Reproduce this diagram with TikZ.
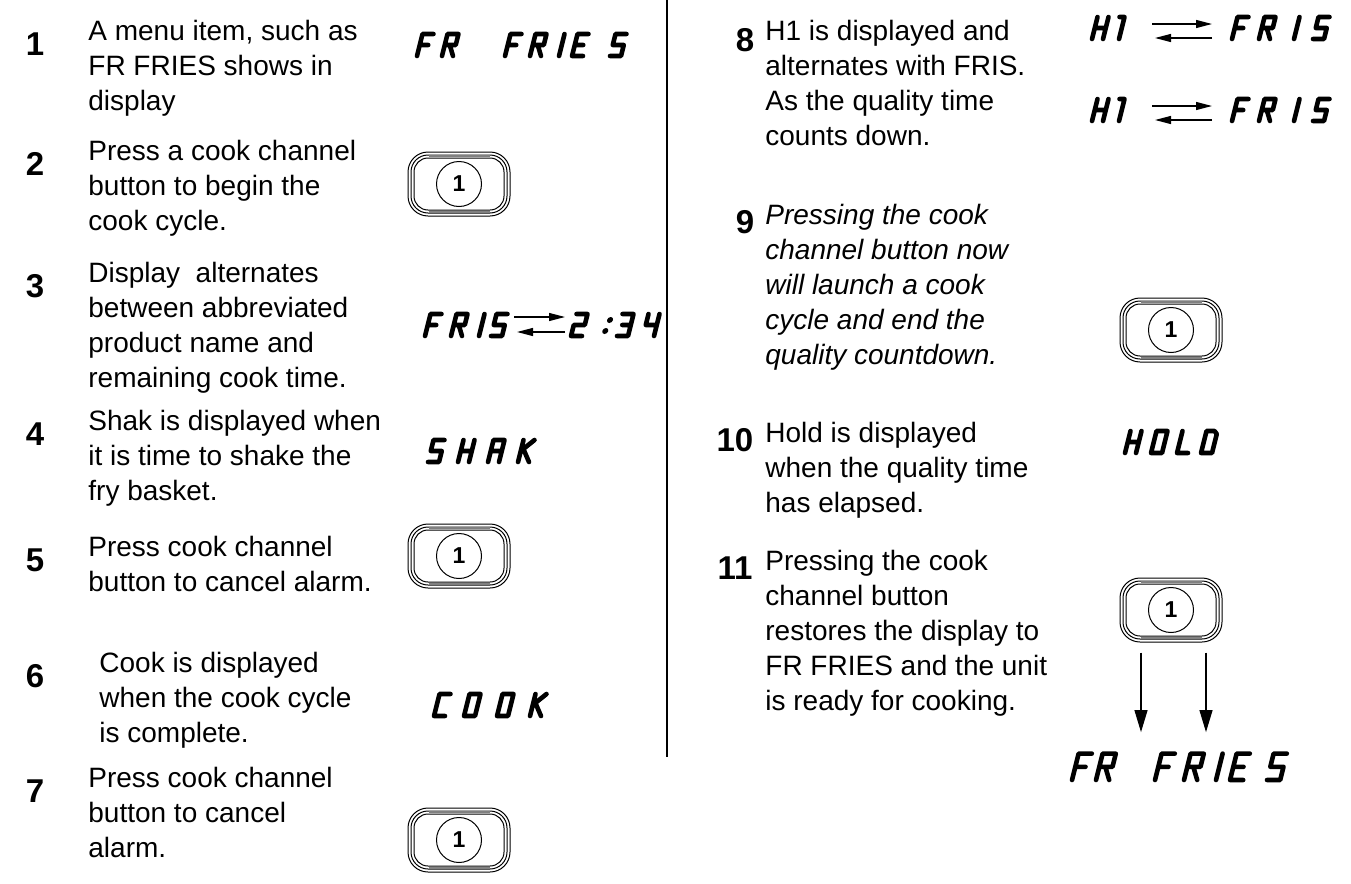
\documentclass[tikz,border=0pt]{standalone}
\usepackage{fontspec}
\setmainfont{Liberation Sans}
\usetikzlibrary{arrows.meta}
\tikzset{
  seg/.style={line width=2.3pt, line cap=round, line join=round},
  steptext/.style={anchor=north west, inner sep=0pt, align=left, font=\fontsize{14}{17.5}\selectfont},
  stepnum/.style={inner sep=0pt, font=\fontsize{16.5}{19}\selectfont\bfseries},
  btnline/.style={draw, line width=0.5pt, inner sep=0pt},
  btncirc/.style={draw, circle, line width=0.5pt, minimum size=22.5pt, inner sep=0pt, font=\fontsize{11.5}{13}\selectfont\bfseries},
  altarrow/.style={line width=0.6pt, -{Triangle[length=8pt,width=4pt]}},
  downarrow/.style={line width=0.6pt, -{Triangle[length=11pt,width=6.5pt]}},
  dispbox/.style={inner sep=0pt, minimum width=#1, minimum height=15.5pt},
}
% seven-segment like glyphs, local units: baseline 0, top -22, width 11
\newcommand\glF{\draw[seg] (11,-22)--(0,-22)--(0,0) (0,-11)--(8.5,-11);}
\newcommand\glR{\draw[seg] (0,0)--(0,-22)--(11,-22)--(11,-11)--(0,-11) (5,-11)--(11,0);}
\newcommand\glI{\draw[seg] (0,-22)--(0,0);}
\newcommand\glE{\draw[seg] (11,-22)--(0,-22)--(0,0)--(11,0) (0,-11)--(8.5,-11);}
\newcommand\glS{\draw[seg] (11,-22)--(0,-22)--(0,-11)--(11,-11)--(11,0)--(0,0);}
\newcommand\glTwo{\draw[seg] (0,-22)--(11,-22)--(11,-11)--(0,-11)--(0,0)--(11,0);}
\newcommand\glThree{\draw[seg] (0,-22)--(11,-22)--(11,0)--(0,0) (2.5,-11)--(11,-11);}
\newcommand\glFour{\draw[seg] (0,-22)--(0,-11)--(11,-11) (11,-22)--(11,0);}
\newcommand\glH{\draw[seg] (0,-22)--(0,0) (11,-22)--(11,0) (0,-11)--(11,-11);}
\newcommand\glOne{\draw[seg] (2,-22)--(7,-22)--(7,0);}
\newcommand\glA{\draw[seg] (0,0)--(0,-22)--(11,-22)--(11,0) (0,-11)--(11,-11);}
\newcommand\glK{\draw[seg] (0,-22)--(0,0) (0,-11)--(11,-22) (3.5,-11)--(11,0);}
\newcommand\glC{\draw[seg] (11,-22)--(0,-22)--(0,0)--(11,0);}
\newcommand\glO{\draw[seg] (0,0)--(0,-22)--(11,-22)--(11,0)--cycle;}
\newcommand\glD{\draw[seg] (0,0)--(0,-22)--(8,-22)--(11,-19)--(11,0)--cycle;}
\newcommand\glL{\draw[seg] (0,-22)--(0,0)--(11,0);}
\newcommand\glColon{\fill (4,-16) circle (1.5pt) (2,-5) circle (1.5pt);}
\newcommand\glyph[4][1]{\begin{scope}[shift={(#2,#3)},scale=#1,xslant=0.25]\csname gl#4\endcsname\end{scope}}
% button: #1 name, #2 x, #3 y
\newcommand\cookbutton[3]{%
  \node[btnline, minimum width=51pt, minimum height=32pt, rounded corners=10pt] (#1) at (#2,#3) {};
  \node[btnline, minimum width=48pt, minimum height=29pt, rounded corners=8.5pt] (#1m) at (#1) {};
  \node[btnline, minimum width=45pt, minimum height=26pt, rounded corners=7pt] (#1i) at (#1) {};
  \draw[gray, line width=1.4pt] ([xshift=9pt,yshift=-0.75pt]#1m.north west) -- ([xshift=-9pt,yshift=-0.75pt]#1m.north east);
  \draw[gray, line width=1.4pt] ([xshift=9pt,yshift=0.75pt]#1m.south west) -- ([xshift=-9pt,yshift=0.75pt]#1m.south east);
  \node[btncirc] (#1c) at (#1) {1};
}
\begin{document}
\begin{tikzpicture}[x=0.5pt,y=-0.5pt]
\useasboundingbox (0,0) rectangle (1351,884);
% divider
\coordinate (divtop) at (667,0);
\coordinate (divbot) at (667,757);
\draw[line width=0.85pt] (divtop) -- (divbot);

% ---------- left column ----------
\node[stepnum] (n1) at (35,44) {1};
\node[steptext] (t1) at (88,20) {A menu item, such as\\FR FRIES shows in\\display};
\node[stepnum] (n2) at (35,164) {2};
\node[steptext] (t2) at (88,140) {Press a cook channel\\button to begin the\\cook cycle.};
\node[stepnum] (n3) at (35,286) {3};
\node[steptext] (t3) at (88,262) {Display\ \ alternates\\between abbreviated\\product name and\\remaining cook time.};
\node[stepnum] (n4) at (35,434) {4};
\node[steptext] (t4) at (88,410) {Shak is displayed when\\it is time to shake the\\fry basket.};
\node[stepnum] (n5) at (35,560) {5};
\node[steptext] (t5) at (88,536) {Press cook channel\\button to cancel alarm.};
\node[stepnum] (n6) at (35,676) {6};
\node[steptext] (t6) at (99,652) {Cook is displayed\\when the cook cycle\\is complete.};
\node[stepnum] (n7) at (35,791) {7};
\node[steptext] (t7) at (88,767) {Press cook channel\\button to cancel\\alarm.};

% displays left
\glyph{417}{56}{F}\glyph{442}{56}{R}\glyph{505}{56}{F}\glyph{530}{56}{R}\glyph{559}{56}{I}\glyph{572}{56}{E}\glyph{610}{56}{S}
\glyph{425}{336}{F}\glyph{451}{336}{R}\glyph{479}{336}{I}\glyph{491}{336}{S}
\coordinate (a3l) at (514,317); \coordinate (a3r) at (565,317);
\coordinate (b3l) at (517,332); \coordinate (b3r) at (565,332);
\draw[altarrow] (a3l) -- (a3r);
\draw[altarrow] (b3r) -- (b3l);
\glyph{571}{336}{Two}\glyph{602}{336}{Colon}\glyph{617}{336}{Three}\glyph{643}{336}{Four}
\glyph{428}{462}{S}\glyph{458}{462}{H}\glyph{488}{462}{A}\glyph{518}{462}{K}
\glyph{434}{716}{C}\glyph{464}{716}{O}\glyph{497}{716}{O}\glyph{530}{716}{K}

\cookbutton{b2}{459}{184}
\cookbutton{b5}{459}{556}
\cookbutton{b7}{459}{840}

% ---------- right column ----------
\node[stepnum] (n8) at (745,40) {8};
\node[steptext] (t8) at (765,20) {H1 is displayed and\\alternates with FRIS.\\As the quality time\\counts down.};
\node[stepnum] (n9) at (745,222) {9};
\node[steptext, font=\fontsize{14}{17.5}\selectfont\itshape] (t9) at (765,204) {Pressing the cook\\channel button now\\will launch a cook\\cycle and end the\\quality countdown.};
\node[stepnum] (n10) at (735,440) {10};
\node[steptext] (t10) at (765,422) {Hold is displayed\\when the quality time\\has elapsed.};
\node[stepnum] (n11) at (735,568) {11};
\node[steptext] (t11) at (765,550) {Pressing the cook\\channel button\\restores the display to\\FR FRIES and the unit\\is ready for cooking.};

% H1 <-> FRIS (two rows)
\foreach \yy/\r in {39/a, 121/b} {
  \glyph{1092}{\yy}{H}\glyph{1112}{\yy}{One}
  \coordinate (h\r ul) at (1152,\yy-15); \coordinate (h\r ur) at (1212,\yy-15);
  \coordinate (h\r ll) at (1155,\yy-1); \coordinate (h\r lr) at (1212,\yy-1);
  \draw[altarrow] (h\r ul) -- (h\r ur);
  \draw[altarrow] (h\r lr) -- (h\r ll);
  \glyph{1232}{\yy}{F}\glyph{1259}{\yy}{R}\glyph{1294}{\yy}{I}\glyph{1313}{\yy}{S}
}
\glyph{1125}{453}{H}\glyph{1151}{453}{O}\glyph{1177}{453}{L}\glyph{1201}{453}{D}

\cookbutton{b9}{1171}{330}
\cookbutton{b11}{1171}{610}

\node[dispbox=118pt] (d11) at (1178,767) {};
\glyph[1.2]{1072}{780}{F}\glyph[1.2]{1096}{780}{R}\glyph[1.2]{1155}{780}{F}\glyph[1.2]{1184}{780}{R}\glyph[1.2]{1216}{780}{I}\glyph[1.2]{1230}{780}{E}\glyph[1.2]{1267}{780}{S}
\coordinate (s11a) at ([yshift=-5pt]b11.south -| 1141,0);
\coordinate (s11b) at ([yshift=-5pt]b11.south -| 1206,0);
\draw[downarrow] (s11a) -- ([yshift=9.5pt]d11.north -| 1141,0);
\draw[downarrow] (s11b) -- ([yshift=9.5pt]d11.north -| 1206,0);
\end{tikzpicture}
\end{document}
